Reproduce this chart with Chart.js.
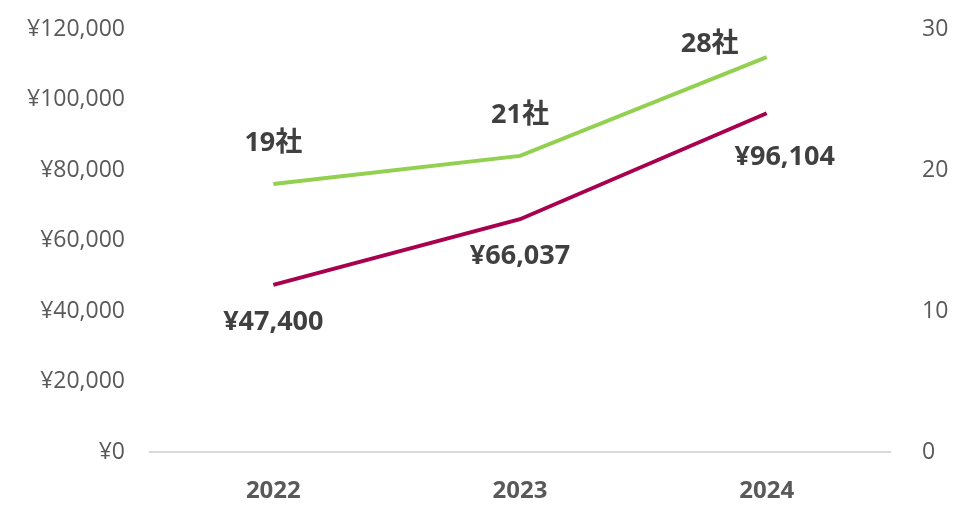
<!DOCTYPE html>
<html>
<head>
<meta charset="utf-8">
<script src="https://cdn.jsdelivr.net/npm/chart.js@4/dist/chart.umd.min.js"></script>
<style>
html,body{margin:0;padding:0;background:#fff;}
#wrap{width:965px;height:519px;}
</style>
</head>
<body>
<div id="wrap"><canvas id="c" width="965" height="519"></canvas></div>
<script>
const categories = ["2022", "2023", "2024"];
const priceValues = [47400, 66037, 96104];
const companyCounts = [19, 21, 28];
const priceLabels = ["¥47,400", "¥66,037", "¥96,104"];
const countLabels = ["19社", "21社", "28社"];
const leftTicks = [0, 20000, 40000, 60000, 80000, 100000, 120000];
const rightTicks = [0, 10, 20, 30];

const labelOffsets = {
  price: [[0, 37], [0, 37], [18, 44]],
  count: [[0, -41], [0, -41], [-57, -13]]
};

const dataLabelPlugin = {
  id: 'dataLabels',
  afterDatasetsDraw(chart) {
    const ctx = chart.ctx;
    ctx.save();
    ctx.font = 'bold 27px "Open Sans", "Noto Sans CJK JP", sans-serif';
    ctx.fillStyle = '#404040';
    ctx.textAlign = 'center';
    ctx.textBaseline = 'middle';
    chart.data.datasets.forEach((ds, di) => {
      const meta = chart.getDatasetMeta(di);
      const key = ds.labelKey;
      meta.data.forEach((pt, i) => {
        const off = labelOffsets[key][i];
        ctx.fillText(ds.pointLabels[i], pt.x + off[0], pt.y + off[1]);
      });
    });
    ctx.restore();
  }
};

function fixVertical(width) {
  return function (s) {
    s.width = width;
    s.paddingTop = 14;
    s.paddingBottom = 14;
  };
}

new Chart(document.getElementById('c'), {
  type: 'line',
  data: {
    labels: categories,
    datasets: [
      {
        label: '価格',
        data: priceValues,
        yAxisID: 'y',
        borderColor: '#A8004F',
        backgroundColor: '#A8004F',
        borderWidth: 4,
        pointRadius: 0,
        tension: 0,
        labelKey: 'price',
        pointLabels: priceLabels
      },
      {
        label: '社数',
        data: companyCounts,
        yAxisID: 'y1',
        borderColor: '#92D050',
        backgroundColor: '#92D050',
        borderWidth: 4,
        pointRadius: 0,
        tension: 0,
        labelKey: 'count',
        pointLabels: countLabels
      }
    ]
  },
  options: {
    responsive: false,
    devicePixelRatio: 1,
    animation: false,
    layout: { padding: { top: 29, bottom: 0, left: 0, right: 0 } },
    plugins: { legend: { display: false }, tooltip: { enabled: false } },
    scales: {
      x: {
        offset: true,
        grid: { display: false, drawTicks: false },
        border: { display: true, color: '#D9D9D9', width: 2 },
        ticks: {
          color: '#595959',
          padding: 25,
          font: { family: '"Liberation Sans Narrow", "Open Sans", sans-serif', size: 24, weight: 'bold' }
        },
        afterFit(s) { s.height = 67; }
      },
      y: {
        position: 'left',
        min: 0, max: 120000,
        afterBuildTicks(s) { s.ticks = leftTicks.map(v => ({ value: v })); },
        grid: { display: false, drawTicks: false },
        border: { display: false },
        ticks: {
          color: '#595959',
          padding: 25,
          font: { family: '"Open Sans", sans-serif', size: 23 },
          callback: v => '¥' + v.toLocaleString('en-US')
        },
        afterFit: fixVertical(150)
      },
      y1: {
        position: 'right',
        min: 0, max: 30,
        afterBuildTicks(s) { s.ticks = rightTicks.map(v => ({ value: v })); },
        grid: { display: false, drawTicks: false },
        border: { display: false },
        ticks: {
          color: '#595959',
          padding: 32,
          font: { family: '"Open Sans", sans-serif', size: 23 }
        },
        afterFit: fixVertical(75)
      }
    }
  },
  plugins: [dataLabelPlugin]
});
</script>
</body>
</html>
